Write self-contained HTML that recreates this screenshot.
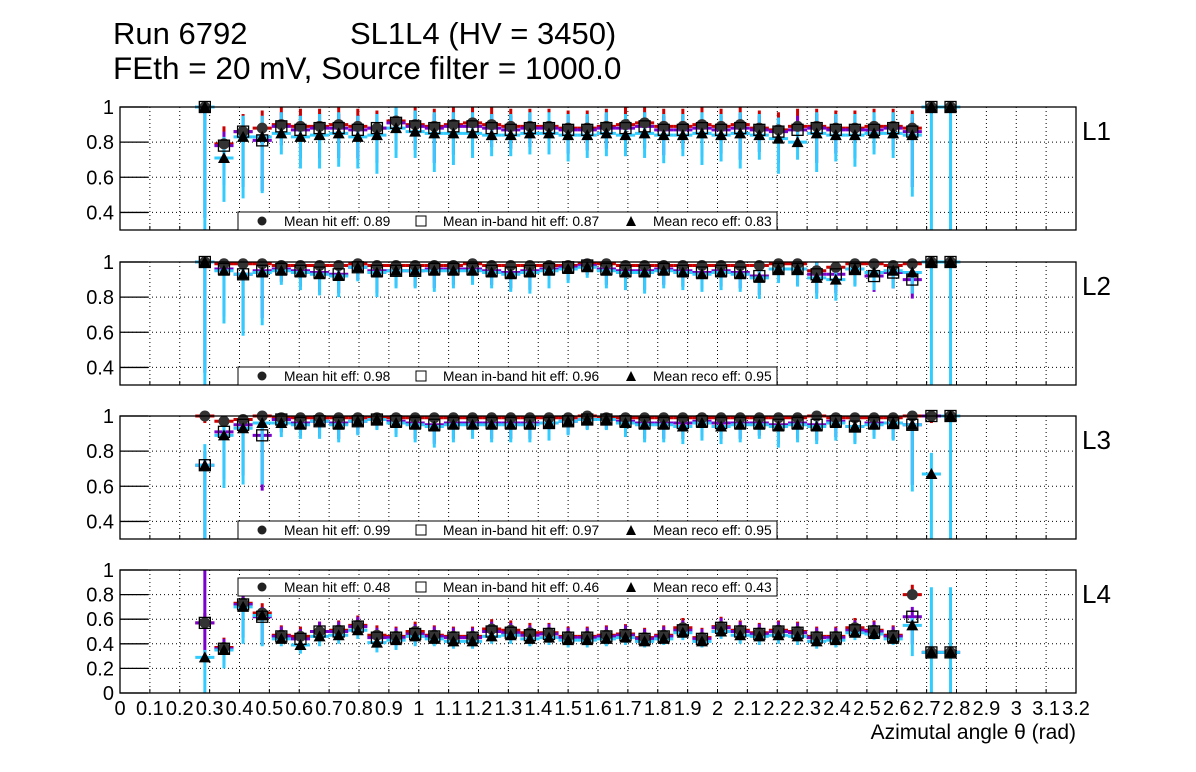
<!DOCTYPE html>
<html><head><meta charset="utf-8"><style>
body{margin:0;background:#fff;}
svg{display:block;font-family:"Liberation Sans",sans-serif;}
</style></head><body>
<svg id="c" width="1196" height="772">
<text x="113" y="44" font-size="31">Run 6792</text>
<text x="350" y="44" font-size="31">SL1L4 (HV = 3450)</text>
<text x="113" y="79" font-size="31.5">FEth = 20 mV, Source filter = 1000.0</text>
<text x="1076" y="739" font-size="21" text-anchor="end">Azimutal angle θ (rad)</text>
</svg>
<script>
const xTicks=["0","0.1","0.2","0.3","0.4","0.5","0.6","0.7","0.8","0.9","1","1.1","1.2","1.3","1.4","1.5","1.6","1.7","1.8","1.9","2","2.1","2.2","2.3","2.4","2.5","2.6","2.7","2.8","2.9","3","3.1","3.2"];
const panelNames=["L1","L2","L3","L4"];
const legendMeans=[["0.89","0.87","0.83"],["0.98","0.96","0.95"],["0.99","0.97","0.95"],["0.48","0.46","0.43"]];
const binStart=0.284, binWidth=0.0640;
const L1hit=[1,0.79,0.86,0.88,0.90,0.89,0.89,0.90,0.89,0.88,0.92,0.90,0.89,0.90,0.91,0.90,0.89,0.89,0.89,0.88,0.88,0.89,0.90,0.91,0.89,0.89,0.90,0.89,0.90,0.88,0.87,0.89,0.89,0.88,0.88,0.89,0.89,0.88,1,1];
const L1inb=[1,0.78,0.86,0.81,0.89,0.87,0.88,0.88,0.87,0.88,0.91,0.89,0.88,0.89,0.89,0.88,0.87,0.88,0.88,0.87,0.87,0.88,0.88,0.89,0.87,0.87,0.88,0.87,0.88,0.87,0.86,0.87,0.88,0.87,0.87,0.87,0.88,0.86,1,1];
const L1reco=[1,0.71,0.83,0.83,0.85,0.83,0.84,0.85,0.83,0.84,0.88,0.86,0.85,0.85,0.85,0.84,0.84,0.85,0.85,0.84,0.84,0.85,0.84,0.85,0.84,0.84,0.85,0.84,0.85,0.84,0.82,0.80,0.85,0.84,0.84,0.85,0.85,0.84,1,1];
const L1lo=[0.7,0.25,0.35,0.32,0.12,0.18,0.19,0.19,0.18,0.22,0.17,0.15,0.22,0.18,0.14,0.12,0.12,0.12,0.12,0.15,0.13,0.13,0.12,0.14,0.16,0.12,0.18,0.15,0.2,0.14,0.2,0.1,0.22,0.15,0.18,0.12,0.14,0.35,0.7,0.7];
const L2lo=[0.7,0.3,0.35,0.3,0.08,0.1,0.12,0.12,0.08,0.14,0.1,0.1,0.12,0.1,0.08,0.09,0.1,0.12,0.1,0.08,0.06,0.1,0.1,0.12,0.1,0.1,0.1,0.1,0.1,0.12,0.08,0.1,0.12,0.12,0.1,0.1,0.1,0.12,0.7,0.7];
const L3lo=[0.7,0.3,0.32,0.35,0.08,0.08,0.1,0.1,0.08,0.06,0.08,0.1,0.12,0.1,0.08,0.1,0.1,0.1,0.1,0.08,0.06,0.06,0.08,0.1,0.1,0.1,0.1,0.1,0.1,0.08,0.12,0.1,0.1,0.1,0.1,0.08,0.1,0.38,0.4,0.7];
const L2hit=[1,0.99,0.99,0.99,0.98,0.98,0.98,0.98,0.99,0.98,0.98,0.98,0.98,0.98,0.99,0.98,0.98,0.98,0.98,0.98,0.99,0.99,0.98,0.98,0.98,0.98,0.98,0.98,0.98,0.98,0.99,0.99,0.95,0.97,0.99,0.99,0.98,0.99,1,1];
const L2inb=[1,0.96,0.93,0.95,0.96,0.95,0.94,0.93,0.97,0.95,0.95,0.95,0.96,0.96,0.96,0.95,0.94,0.95,0.96,0.97,0.98,0.96,0.95,0.95,0.96,0.95,0.94,0.95,0.94,0.92,0.96,0.96,0.93,0.93,0.96,0.92,0.94,0.90,1,1];
const L2reco=[1,0.95,0.93,0.94,0.95,0.94,0.93,0.92,0.97,0.94,0.95,0.95,0.95,0.95,0.95,0.94,0.93,0.94,0.95,0.96,0.97,0.95,0.94,0.94,0.95,0.94,0.93,0.94,0.93,0.91,0.96,0.96,0.91,0.90,0.96,0.94,0.95,0.94,1,1];
const L3hit=[1,0.97,0.98,1,0.99,0.99,0.99,0.99,0.99,0.99,0.99,0.99,0.99,0.99,0.99,0.99,0.99,0.99,0.99,0.99,1,0.99,0.99,0.99,0.99,0.99,0.99,0.99,0.99,0.99,0.99,0.99,1,0.99,0.99,0.99,0.99,1,1,1];
const L3inb=[0.72,0.91,0.95,0.89,0.98,0.96,0.97,0.96,0.97,0.98,0.97,0.96,0.95,0.96,0.96,0.96,0.96,0.96,0.96,0.97,0.98,0.98,0.97,0.96,0.96,0.96,0.97,0.96,0.96,0.96,0.95,0.96,0.95,0.97,0.94,0.96,0.96,0.95,1,1];
const L3reco=[0.72,0.89,0.93,0.96,0.96,0.95,0.97,0.95,0.97,0.98,0.96,0.95,0.94,0.95,0.95,0.95,0.95,0.95,0.96,0.97,0.98,0.98,0.96,0.95,0.95,0.94,0.96,0.94,0.95,0.95,0.94,0.95,0.94,0.96,0.94,0.95,0.96,0.95,0.67,1];
const L4hit=[0.57,0.37,0.73,0.65,0.47,0.46,0.50,0.51,0.55,0.47,0.46,0.50,0.47,0.46,0.46,0.52,0.51,0.49,0.49,0.46,0.46,0.47,0.48,0.45,0.47,0.53,0.45,0.54,0.51,0.49,0.51,0.50,0.46,0.46,0.53,0.51,0.47,0.80,0.33,0.33];
const L4inb=[0.57,0.36,0.72,0.62,0.46,0.44,0.50,0.50,0.54,0.45,0.45,0.48,0.46,0.45,0.45,0.50,0.49,0.47,0.48,0.45,0.45,0.46,0.47,0.44,0.46,0.51,0.44,0.53,0.50,0.48,0.50,0.49,0.45,0.45,0.51,0.50,0.46,0.62,0.33,0.33];
const L4reco=[0.29,0.35,0.70,0.63,0.44,0.39,0.46,0.47,0.51,0.41,0.43,0.46,0.44,0.42,0.42,0.46,0.47,0.44,0.45,0.43,0.43,0.44,0.45,0.42,0.44,0.49,0.42,0.50,0.47,0.46,0.47,0.46,0.42,0.43,0.49,0.48,0.44,0.55,0.33,0.33];
const L4lo=[0.29,0.15,0.3,0.25,0.06,0.07,0.08,0.07,0.07,0.08,0.08,0.08,0.06,0.06,0.06,0.06,0.07,0.06,0.06,0.06,0.06,0.06,0.06,0.05,0.05,0.06,0.05,0.06,0.07,0.07,0.07,0.07,0.06,0.06,0.06,0.05,0.05,0.25,0.33,0.33];
const panelData=[[L1hit,L1inb,L1reco,L1lo],[L2hit,L2inb,L2reco,L2lo],[L3hit,L3inb,L3reco,L3lo],[L4hit,L4inb,L4reco,L4lo]];
const yMins=[0.3,0.3,0.3,0];
const yTickLabels=[["0.4","0.6","0.8","1"],["0.4","0.6","0.8","1"],["0.4","0.6","0.8","1"],["0","0.2","0.4","0.6","0.8","1"]];
const NS="http://www.w3.org/2000/svg";
const svg=document.getElementById('c');
const X0=120,X1=1076,XMAX=3.2;
const tops=[107,262,416,570],H=123;
function sx(v){return X0+v/XMAX*(X1-X0);}
function mk(tag,attrs,parent){const e=document.createElementNS(NS,tag);for(const k in attrs)e.setAttribute(k,attrs[k]);(parent||svg).appendChild(e);return e;}
const colors=["#cc0000","#7a00cc","#33ccff"];
const sNames=["hit","inband","reco"];
for(let p=0;p<4;p++){
  const top=tops[p],bot=top+H,ymin=yMins[p];
  const sy=v=>bot-(v-ymin)/(1-ymin)*H;
  const g=mk('g',{});
  
  
  for(let i=1;i<xTicks.length-1;i++){const x=sx(parseFloat(xTicks[i]));mk('line',{x1:x,x2:x,y1:top,y2:bot,stroke:'#000','stroke-width':1,'stroke-dasharray':'1,3'},g);}
  yTickLabels[p].forEach(t=>{const v=parseFloat(t);const y=sy(v);
    if(v>ymin&&v<1)mk('line',{x1:X0,x2:X1,y1:y,y2:y,stroke:'#000','stroke-width':1,'stroke-dasharray':'1,3'},g);
    mk('line',{x1:X0,x2:X0+28,y1:y,y2:y,stroke:'#000','stroke-width':1.3},g);
    const tl=mk('text',{x:114,y:y+7,'font-size':20,'text-anchor':'end'},g);tl.textContent=t;
    
    
  });
  for(let i=0;i<xTicks.length;i++){const x=sx(parseFloat(xTicks[i]));mk('line',{x1:x,x2:x,y1:bot,y2:bot-4,stroke:'#000'},g);}
  const d=panelData[p];
  const hw=(sx(binWidth)-sx(0))/2;
  for(let s=0;s<3;s++){
    const arr=d[s];
    const sg=mk('g',{},g);
    
    
    for(let i=0;i<arr.length;i++){
      const x=sx(binStart+i*binWidth),v=arr[i];
      let up,lo;
      if(s==2){up=Math.min(1,v+(p==3?0.06:0.12));lo=Math.max(ymin,v-d[3][i]);}
      else if(s==0){up=Math.min(1,v+(p==3?0.08:0.1));lo=Math.max(ymin,v-0.04);}
      else {up=Math.min(1,v+0.08);lo=i>=38?v:Math.max(ymin,v-d[3][i]*0.9);}
      if(p==3&&i==0&&s==1)up=1;
      if(p==3&&i>=38&&s==2)up=0.86;
      mk('line',{x1:x-hw,x2:x+hw,y1:sy(v),y2:sy(v),stroke:colors[s],'stroke-width':3},sg);
      mk('line',{x1:x,x2:x,y1:sy(up),y2:sy(lo),stroke:colors[s],'stroke-width':3},sg);
    }
  }
  const mg=mk('g',{},g);
  
  
  for(let i=0;i<40;i++){
    const x=sx(binStart+i*binWidth);
    mk('circle',{cx:x,cy:sy(d[0][i]),r:5.5,fill:'#333'},mg);
    mk('rect',{x:x-5.5,y:sy(d[1][i])-5.5,width:11,height:11,fill:'none',stroke:'#000','stroke-width':1.3},mg);
    const ty=sy(d[2][i]);
    mk('polygon',{points:`${x-6},${ty+5} ${x+6},${ty+5} ${x},${ty-6}`,fill:'#000'},mg);
  }
  mk('rect',{x:X0,y:top,width:X1-X0,height:H,fill:'none',stroke:'#000','stroke-width':1.3},g);
  const ly=p==3?578:top+105;
  const lg=mk('g',{},g);
  
  
  mk('rect',{x:238,y:ly,width:539,height:18,fill:'#fff',stroke:'#000','stroke-width':1},lg);
  mk('circle',{cx:262,cy:ly+9,r:4.5,fill:'#222'},lg);
  mk('rect',{x:416,y:ly+4,width:10,height:10,fill:'none',stroke:'#000'},lg);
  mk('polygon',{points:`626,${ly+14} 636,${ly+14} 631,${ly+4}`,fill:'#000'},lg);
  const lab=["Mean hit  eff: ","Mean in-band hit eff: ","Mean reco eff: "],lx=[284,443,653];
  for(let k=0;k<3;k++){const t=mk('text',{x:lx[k],y:ly+14,'font-size':13.8,'xml:space':'preserve'},lg);t.textContent=lab[k]+legendMeans[p][k];
    
    }
  const pl=mk('text',{x:1082,y:top+33,'font-size':26},g);pl.textContent=panelNames[p];
  
  
}
for(let i=0;i<xTicks.length;i++){
  const t=mk('text',{x:sx(parseFloat(xTicks[i])),y:715,'font-size':20,'text-anchor':'middle'});t.textContent=xTicks[i];
  
  
}
</script>
</body></html>
